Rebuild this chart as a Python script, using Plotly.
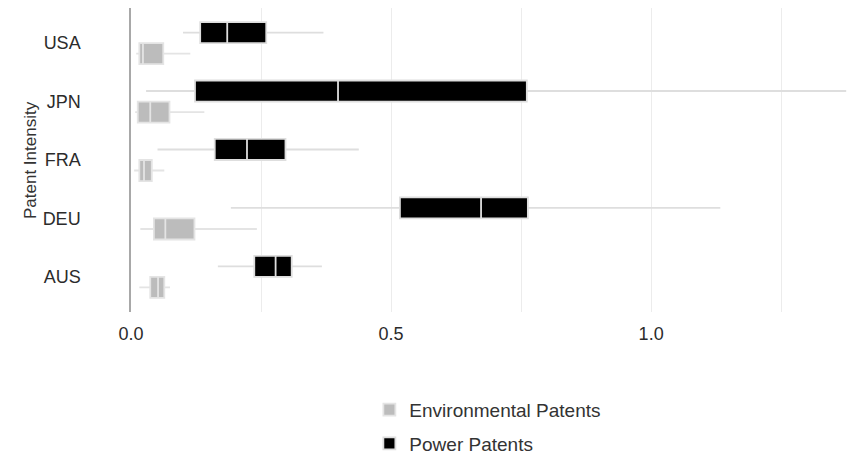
import plotly.graph_objects as go

categories = ["AUS", "DEU", "FRA", "JPN", "USA"]

env_lower = [0.016, 0.018, 0.006, 0.008, 0.010]
env_q1 = [0.037, 0.044, 0.016, 0.013, 0.016]
env_median = [0.052, 0.066, 0.025, 0.037, 0.023]
env_q3 = [0.064, 0.122, 0.040, 0.074, 0.062]
env_upper = [0.075, 0.242, 0.064, 0.141, 0.114]

pow_lower = [0.167, 0.192, 0.051, 0.029, 0.100]
pow_q1 = [0.237, 0.517, 0.161, 0.123, 0.133]
pow_median = [0.278, 0.673, 0.223, 0.398, 0.185]
pow_q3 = [0.309, 0.763, 0.297, 0.761, 0.260]
pow_upper = [0.367, 1.133, 0.438, 1.375, 0.370]

x_tick_vals = [0.0, 0.5, 1.0]
x_tick_text = ["0.0", "0.5", "1.0"]

fig = go.Figure()
fig.add_trace(go.Box(
    name="Environmental Patents", orientation="h", y=categories,
    lowerfence=env_lower, q1=env_q1, median=env_median, q3=env_q3, upperfence=env_upper,
    fillcolor="#bcbcbc", line=dict(color="#e4e4e4", width=1.8), whiskerwidth=0,
    legendgroup="env",
))
fig.add_trace(go.Box(
    name="Power Patents", orientation="h", y=categories,
    lowerfence=pow_lower, q1=pow_q1, median=pow_median, q3=pow_q3, upperfence=pow_upper,
    fillcolor="#000000", line=dict(color="#dedede", width=1.8), whiskerwidth=0,
    legendgroup="pow",
))

fig.update_layout(
    width=861, height=457,
    margin=dict(l=131, r=7, t=8, b=145, autoexpand=False),
    paper_bgcolor="white", plot_bgcolor="white",
    boxmode="group", boxgap=0.28, boxgroupgap=0,
    font=dict(family="Liberation Sans, Arial, sans-serif", color="#2b2b2b"),
    showlegend=True,
    legend=dict(
        xref="container", yref="container", x=0.429, y=0.145,
        xanchor="left", yanchor="top", orientation="v",
        font=dict(size=19, color="#333333"), tracegroupgap=6,
        bgcolor="rgba(0,0,0,0)",
    ),
    xaxis=dict(
        range=[0, 1.39], tickvals=x_tick_vals, ticktext=x_tick_text,
        showgrid=False, zeroline=False, showline=False,
        ticks="", ticklabelstandoff=9,
        tickfont=dict(size=18, color="#2b2b2b"),
        minor=dict(dtick=0.25, tick0=0, showgrid=True, gridcolor="#ececec", gridwidth=1),
    ),
    yaxis=dict(
        categoryorder="array", categoryarray=categories,
        range=[-0.6, 4.6], showgrid=False, zeroline=False,
        showline=True, linecolor="#a8a8a8", linewidth=1.5,
        ticks="", ticklabelstandoff=45,
        tickfont=dict(size=18, color="#2b2b2b"),
    ),
    annotations=[dict(
        text="Patent Intensity", textangle=-90, xref="paper", yref="paper",
        x=(30 - 131) / 723, y=0.5, xanchor="center", yanchor="middle",
        showarrow=False, font=dict(size=17, color="#333333"),
    )],
)

fig.write_html("out.html", config={"displayModeBar": False},
               post_script="document.body.style.margin='0';")
